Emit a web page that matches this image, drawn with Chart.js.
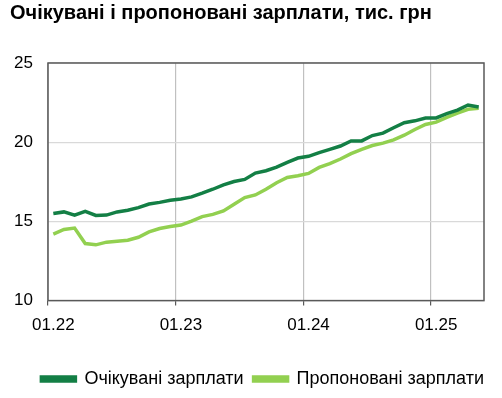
<!DOCTYPE html>
<html>
<head>
<meta charset="utf-8">
<script src="https://cdn.jsdelivr.net/npm/chart.js@4"></script>
<style>
  html, body { margin: 0; padding: 0; background: #fff; }
  #wrap { width: 502px; height: 398px; }
</style>
</head>
<body>
<div id="wrap"><canvas id="chart"></canvas></div>
<script>
// місяці 01.22 - 05.25
const months = [
  '01.22','02.22','03.22','04.22','05.22','06.22','07.22','08.22','09.22','10.22','11.22','12.22',
  '01.23','02.23','03.23','04.23','05.23','06.23','07.23','08.23','09.23','10.23','11.23','12.23',
  '01.24','02.24','03.24','04.24','05.24','06.24','07.24','08.24','09.24','10.24','11.24','12.24',
  '01.25','02.25','03.25','04.25','05.25'
]
// очікувані зарплати, тис. грн
const expected = [
  15.5, 15.6, 15.4, 15.63, 15.38, 15.4, 15.6, 15.7, 15.87, 16.1, 16.2, 16.33,
  16.42, 16.55, 16.78, 17.03, 17.31, 17.52, 17.65, 18.05, 18.2, 18.43, 18.73, 19.0,
  19.11, 19.34, 19.55, 19.76, 20.08, 20.08, 20.42, 20.57, 20.91, 21.23, 21.35, 21.53,
  21.53, 21.8, 22.03, 22.35, 22.22
]
// пропоновані зарплати, тис. грн
const offered = [
  14.2, 14.49, 14.58, 13.6, 13.52, 13.69, 13.75, 13.81, 14.0, 14.34, 14.55, 14.68,
  14.77, 15.02, 15.3, 15.44, 15.66, 16.08, 16.5, 16.67, 17.03, 17.44, 17.77, 17.88,
  18.03, 18.41, 18.65, 18.94, 19.28, 19.55, 19.79, 19.94, 20.15, 20.44, 20.8, 21.12,
  21.27, 21.57, 21.84, 22.08, 22.14
]
const yTicks = [10, 15, 20, 25]

const font = "'Liberation Sans', Arial, sans-serif"
Chart.defaults.font.family = font
Chart.defaults.color = '#000'

// рамка навколо області графіка + зсув легенди вправо
const frame = {
  id: 'frame',
  afterLayout(chart) {
    chart.legend.left += 10
    chart.legend.right += 10
  },
  beforeDatasetsDraw(chart) {
    const a = chart.chartArea, ctx = chart.ctx
    ctx.save()
    ctx.strokeStyle = '#595959'
    ctx.lineWidth = 1.5
    ctx.strokeRect(a.left, a.top, a.right - a.left, a.bottom - a.top)
    ctx.restore()
  }
}

const yearLine = (c, col) => (c.index !== undefined && c.index % 12 === 0) ? col : 'rgba(0,0,0,0)'

new Chart(document.getElementById('chart'), {
  type: 'line',
  data: {
    labels: months,
    datasets: [
      { label: 'Очікувані зарплати', data: expected, borderColor: '#137f45', backgroundColor: '#137f45',
        borderWidth: 3.5, pointRadius: 0, tension: 0 },
      { label: 'Пропоновані зарплати', data: offered, borderColor: '#92d050', backgroundColor: '#92d050',
        borderWidth: 3.5, pointRadius: 0, tension: 0 }
    ]
  },
  options: {
    responsive: true,
    maintainAspectRatio: false,
    animation: false,
    layout: { padding: { left: 10, right: 18, top: 1, bottom: 0 } },
    plugins: {
      title: {
        display: true, align: 'start',
        text: 'Очікувані і пропоновані зарплати, тис. грн',
        font: { size: 20, weight: 'bold' }, color: '#000',
        padding: { top: 0, bottom: 38 }
      },
      legend: {
        position: 'bottom', align: 'end',
        labels: {
          boxWidth: 34, boxHeight: 4, padding: 10,
          font: { size: 18 }, color: '#000'
        }
      },
      tooltip: { enabled: false }
    },
    scales: {
      x: {
        offset: true,
        afterFit: s => { s.height += 14 },
        grid: { offset: true, color: c => yearLine(c, '#c0c0c0'), tickColor: c => yearLine(c, '#595959'),
                tickLength: 5, lineWidth: 1.2 },
        border: { display: false },
        ticks: {
          autoSkip: false, maxRotation: 0, padding: 10,
          font: { size: 17 }, color: '#000',
          callback: (v, i) => i % 12 === 0 ? months[i] : ''
        }
      },
      y: {
        min: 10, max: 25,
        afterBuildTicks: s => { s.ticks = yTicks.map(v => ({ value: v })) },
        afterFit: s => { s.width = 38 },
        grid: { color: '#d9d9d9', drawTicks: false, lineWidth: 1.2 },
        border: { display: false },
        ticks: { padding: 15, font: { size: 17 }, color: '#000' }
      }
    }
  },
  plugins: [frame]
})
</script>
</body>
</html>
